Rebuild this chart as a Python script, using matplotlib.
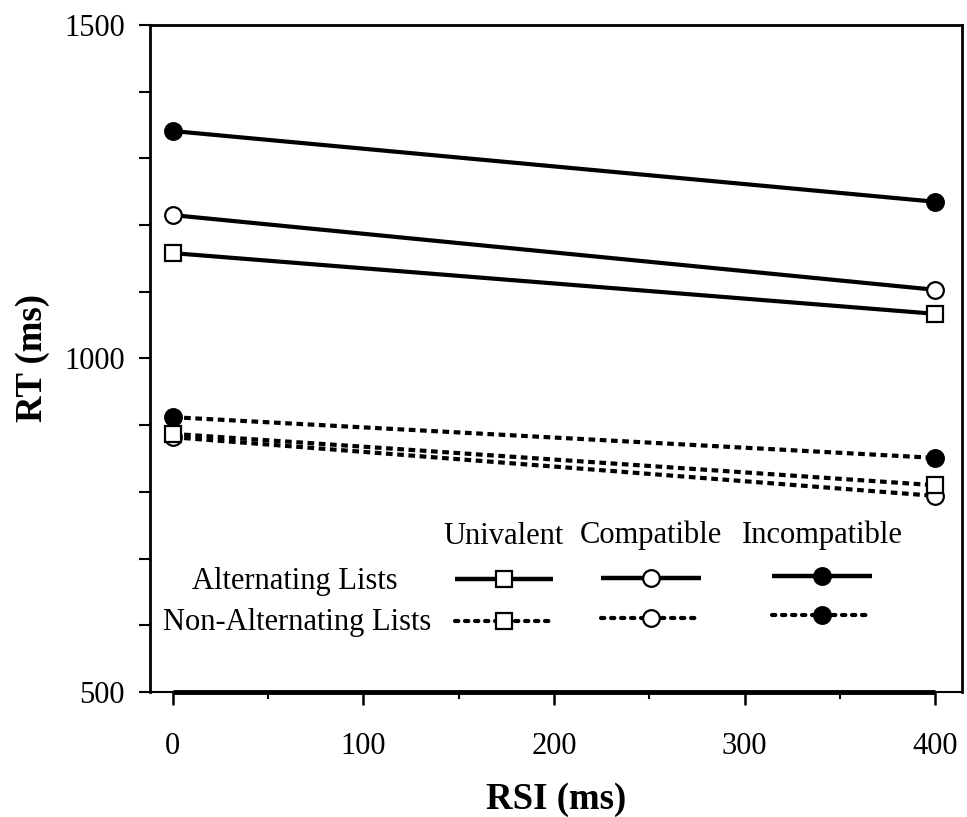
import matplotlib.pyplot as plt
from matplotlib.lines import Line2D
from matplotlib.ticker import MultipleLocator, FixedLocator

plt.rcParams['font.family'] = ['Liberation Serif', 'DejaVu Serif']

# Data
RSI = [0, 400]
ALT_UNIVALENT = [1158, 1067]
ALT_COMPATIBLE = [1215, 1103]
ALT_INCOMPATIBLE = [1341, 1235]
NONALT_UNIVALENT = [887, 810]
NONALT_COMPATIBLE = [882, 794]
NONALT_INCOMPATIBLE = [912, 851]

CONDITIONS = ['Univalent', 'Compatible', 'Incompatible']
MARKERS = {'Univalent': ('s', 'white'), 'Compatible': ('o', 'white'), 'Incompatible': ('o', 'black')}
LIST_TYPES = ['Alternating Lists', 'Non-Alternating Lists']

fig = plt.figure(figsize=(9.67, 8.17), dpi=100)
ax = fig.add_axes([0.1551, 0.1530, 0.8397, 0.8164])

DOTS = (0, (1.6, 1.1))
# drawing order matters where markers overlap (square over circle)
series = [
    (ALT_UNIVALENT, 'Univalent', '-'),
    (ALT_COMPATIBLE, 'Compatible', '-'),
    (ALT_INCOMPATIBLE, 'Incompatible', '-'),
    (NONALT_COMPATIBLE, 'Compatible', DOTS),
    (NONALT_INCOMPATIBLE, 'Incompatible', DOTS),
    (NONALT_UNIVALENT, 'Univalent', DOTS),
]
for vals, cond, ls in series:
    m, fc = MARKERS[cond]
    ax.plot(RSI, vals, color='black', lw=3, linestyle=ls, marker=m, markersize=12,
            markerfacecolor=fc, markeredgecolor='black', markeredgewidth=1.6,
            dash_capstyle='butt', zorder=3)

ax.set_xlim(-12, 414)
ax.set_ylim(500, 1500)

# ticks
ax.xaxis.set_major_locator(MultipleLocator(100))
ax.xaxis.set_minor_locator(FixedLocator([50, 150, 250, 350]))
ax.yaxis.set_major_locator(FixedLocator([500, 1000, 1500]))
ax.yaxis.set_minor_locator(FixedLocator([600, 700, 800, 900, 1100, 1200, 1300, 1400]))
ax.tick_params(axis='x', which='major', direction='out', length=9, width=1.8, labelsize=22, pad=20)
ax.tick_params(axis='x', which='minor', direction='out', length=5, width=1.5)
ax.tick_params(axis='y', which='both', direction='out', length=8, width=1.5, labelsize=22, pad=10)

for s in ['left', 'top', 'right']:
    ax.spines[s].set_linewidth(2)
ax.spines['bottom'].set_linewidth(1.5)
ax.plot([0, 400], [500, 500], color='black', lw=3.5, solid_capstyle='butt', clip_on=False, zorder=4)

ax.set_xlabel('RSI (ms)', fontsize=26.5, fontweight='bold', labelpad=15)
ax.set_ylabel('RT (ms)', fontsize=26.5, fontweight='bold', labelpad=10)

# custom legend in axes fraction
def fx(px):
    return (px - 150) / (962 - 150)

def fy(py):
    return (692 - py) / (692 - 25)

col_x = [504, 651, 822]
col_half = [49, 50, 50]
head_y = [537, 535, 535]
row_y = [[579, 621], [578, 618], [576, 615]]
for i, cond in enumerate(CONDITIONS):
    ax.text(fx(col_x[i]), fy(head_y[i]), cond, transform=ax.transAxes,
            ha='center', va='center', fontsize=22)
    m, fc = MARKERS[cond]
    for j, lt in enumerate(LIST_TYPES):
        ls = '-' if j == 0 else (0, (0.8, 1.6))
        yy = fy(row_y[i][j])
        ln = Line2D([fx(col_x[i] - col_half[i]), fx(col_x[i] + col_half[i])], [yy, yy],
                    transform=ax.transAxes, color='black', lw=3.2 if j == 0 else 3,
                    linestyle=ls, dash_capstyle='round', solid_capstyle='butt')
        ax.add_line(ln)
        ax.plot([fx(col_x[i])], [yy], transform=ax.transAxes,
                marker=m, markersize=12, markerfacecolor=fc, markeredgecolor='black',
                markeredgewidth=1.6, color='black')

ax.text(fx(295), fy(582), LIST_TYPES[0], transform=ax.transAxes, ha='center', va='center', fontsize=22)
ax.text(fx(297), fy(623), LIST_TYPES[1], transform=ax.transAxes, ha='center', va='center', fontsize=22)

fig.savefig('out.png', dpi=100)
